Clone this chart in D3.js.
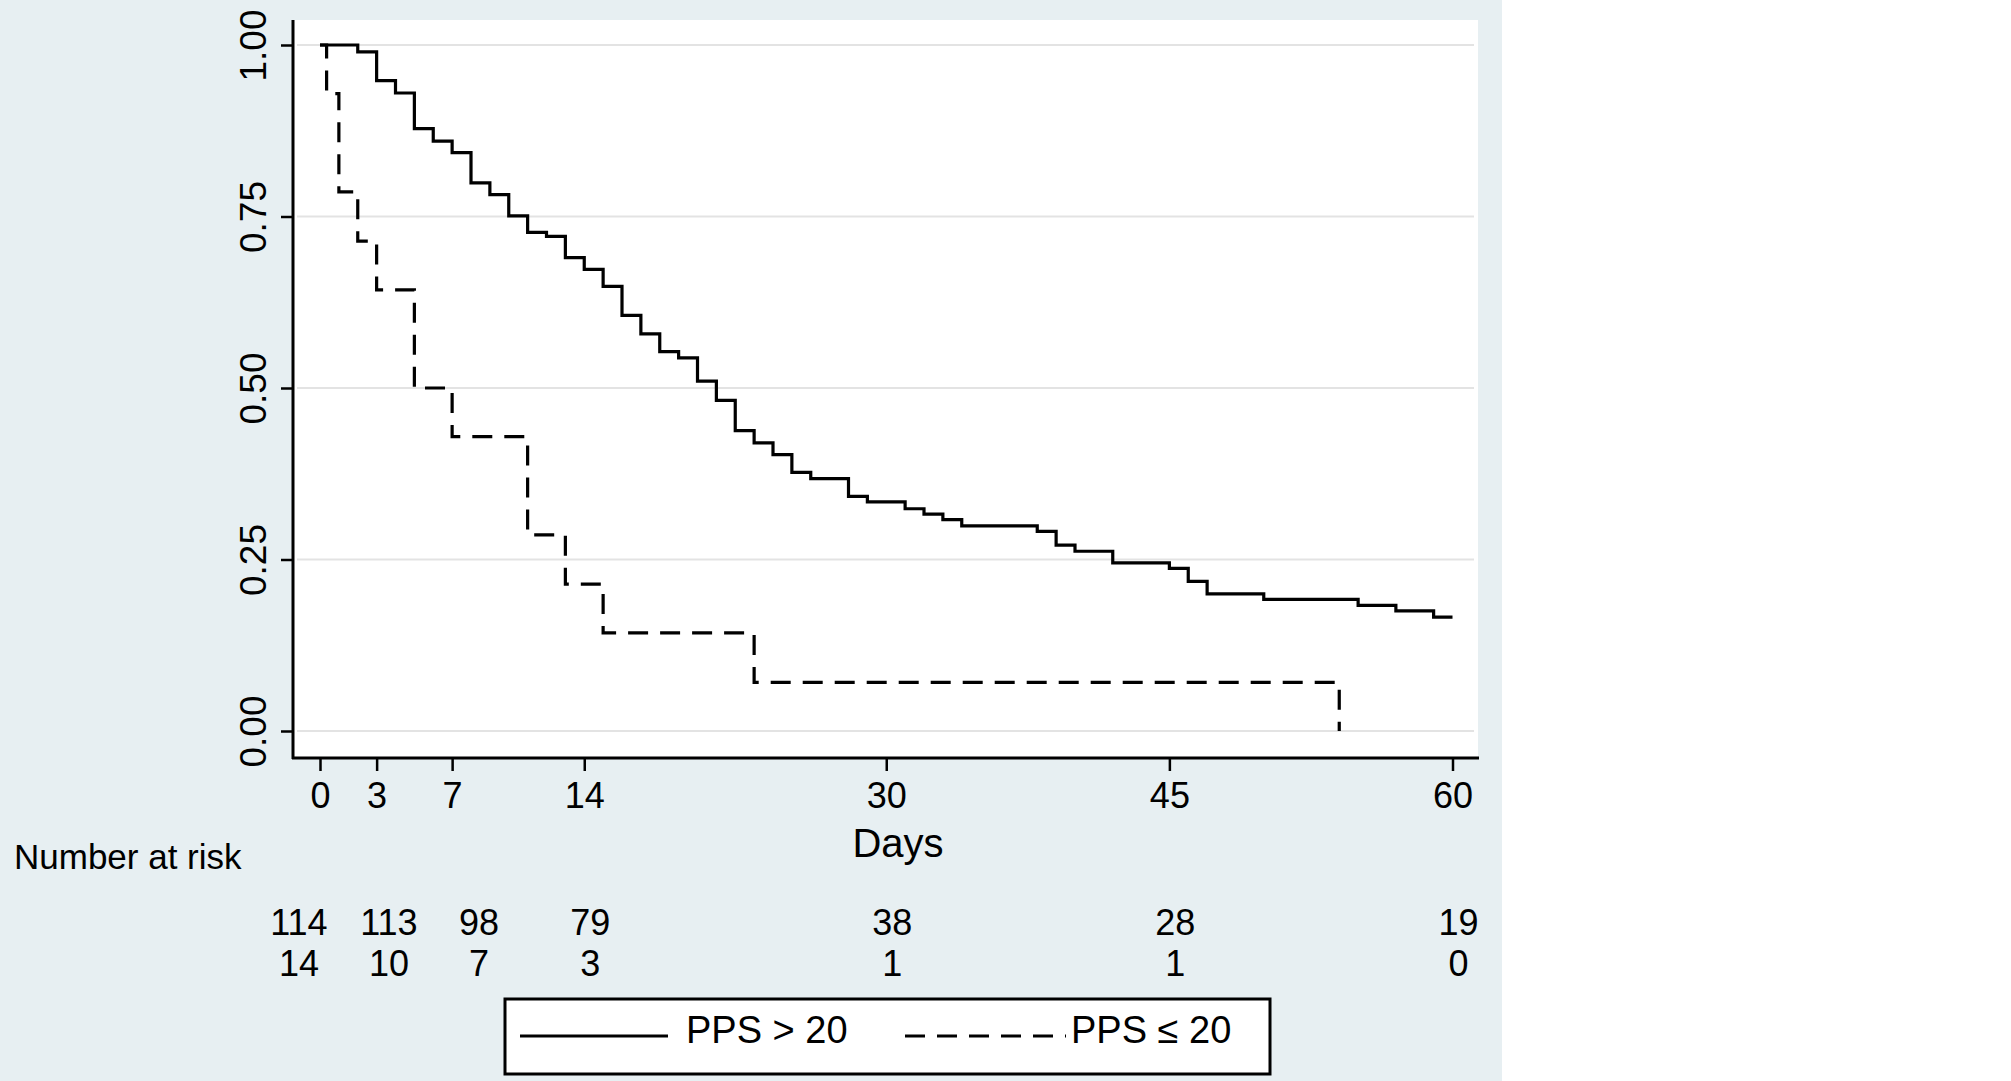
<!DOCTYPE html>
<html>
  <head>
    <title>Kaplan-Meier PPS</title>
    <style>
      body { margin: 0; background: #fff; }
      text { font-family: "Liberation Sans", Arial, sans-serif; fill: #000; }
    </style>
    <script src="https://d3js.org/d3.v7.min.js"></script>
  </head>
  <body>
    <div id="chart"></div>
    <script type="text/javascript">
      // survival curves (day, survival)
      var solidTimes = [0, 2, 3, 4, 5, 6, 7, 8, 9, 10, 11, 12, 13, 14, 15, 16, 17, 18, 19, 20,
                        21, 22, 23, 24, 25, 26, 28, 29, 31, 32, 33, 34, 38, 39, 40, 42, 45, 46, 47, 50,
                        55, 57, 59, 60];
      var solidSurv  = [1, 0.990, 0.948, 0.930, 0.878, 0.860, 0.843, 0.799, 0.782, 0.751,
                        0.727, 0.721, 0.690, 0.673, 0.648, 0.606, 0.579, 0.553, 0.544, 0.510,
                        0.482, 0.438, 0.420, 0.403, 0.377, 0.368, 0.342, 0.334, 0.324, 0.316,
                        0.308, 0.299, 0.291, 0.271, 0.262, 0.245, 0.237, 0.218, 0.200, 0.192,
                        0.183, 0.175, 0.166, 0.166];
      var dashTimes  = [0, 0.35, 1, 2, 3, 5, 7, 11, 13, 15, 23, 54];
      var dashSurv   = [1, 0.929, 0.786, 0.714, 0.643, 0.5, 0.429, 0.286, 0.214, 0.143, 0.071, 0];

      var xTicks = [0, 3, 7, 14, 30, 45, 60];
      var yTicks = [0, 0.25, 0.5, 0.75, 1];

      var riskTimes = [0, 3, 7, 14, 30, 45, 60];
      var riskHigh  = [114, 113, 98, 79, 38, 28, 19];
      var riskLow   = [14, 10, 7, 3, 1, 1, 0];

      var seriesNames = ["PPS > 20", "PPS \u2264 20"];

      var width = 2011,
          height = 1081;

      var svg = d3.select("#chart").append("svg")
        .attr("width", width)
        .attr("height", height);

      // stata-like light blue background and white plot region
      svg.append("rect").attr("x", 0).attr("y", 0)
        .attr("width", 1502).attr("height", height)
        .style("fill", "#e7eff2");
      svg.append("rect").attr("x", 293).attr("y", 20)
        .attr("width", 1478 - 293).attr("height", 758 - 20)
        .style("fill", "#fff");

      var x = d3.scaleLinear().domain([0, 60]).range([320, 1452.5]);
      var y = d3.scaleLinear().domain([0, 1]).range([731, 45]);

      // grid
      svg.selectAll(".grid")
        .data(yTicks)
        .enter()
        .append("line")
        .attr("class", "grid")
        .attr("x1", 297).attr("x2", 1474)
        .attr("y1", function(d){return y(d);})
        .attr("y2", function(d){return y(d);})
        .style("stroke", "#e3e3e3")
        .style("stroke-width", 2);

      // axes
      var xAxis = svg.append("g")
        .attr("transform", "translate(0,758)")
        .call(d3.axisBottom(x).tickValues(xTicks).tickSize(13).tickPadding(11).tickSizeOuter(0));
      xAxis.select(".domain").remove();
      xAxis.selectAll("line").style("stroke", "#000").style("stroke-width", 2.5);
      xAxis.selectAll("text").style("font-size", "36px").style("font-family", null);

      var yAxis = svg.append("g")
        .attr("transform", "translate(293,0)")
        .call(d3.axisLeft(y).tickValues(yTicks).tickSize(12).tickFormat(d3.format(".2f")).tickSizeOuter(0));
      yAxis.select(".domain").remove();
      yAxis.selectAll("line").style("stroke", "#000").style("stroke-width", 2.5);
      yAxis.selectAll("text")
        .attr("x", 0).attr("y", -27).attr("dy", null)
        .attr("transform", "rotate(-90)")
        .attr("text-anchor", "middle")
        .style("font-size", "37px").style("font-family", null);

      svg.append("line").attr("x1", 293).attr("x2", 293).attr("y1", 20).attr("y2", 759)
        .style("stroke", "#000").style("stroke-width", 3);
      svg.append("line").attr("x1", 292).attr("x2", 1479).attr("y1", 758).attr("y2", 758)
        .style("stroke", "#000").style("stroke-width", 3);

      // curves
      var line = d3.line()
        .x(function(d){return x(d[0]);})
        .y(function(d){return y(d[1]);})
        .curve(d3.curveStepAfter);

      svg.append("path")
        .datum(d3.zip(solidTimes, solidSurv))
        .attr("d", line)
        .style("fill", "none").style("stroke", "#000").style("stroke-width", 3.2);

      svg.append("path")
        .datum(d3.zip(dashTimes, dashSurv))
        .attr("d", line)
        .style("fill", "none").style("stroke", "#000").style("stroke-width", 3.2)
        .style("stroke-dasharray", "20,12");

      // axis title
      svg.append("text").attr("x", 898).attr("y", 857)
        .attr("text-anchor", "middle").style("font-size", "40px").text("Days");

      // number at risk table, columns pushed apart where they would collide
      svg.append("text").attr("x", 14).attr("y", 869)
        .style("font-size", "35px").text("Number at risk");

      var riskX = riskTimes.map(function(t){return x(t) + 6;});
      for (var k = 0; k < 40; k++) {
        for (var i = 1; i < riskX.length; i++) {
          var gap = riskX[i] - riskX[i-1];
          if (gap < 90) {
            riskX[i-1] -= (90 - gap) / 2;
            riskX[i]   += (90 - gap) / 2;
          }
        }
      }

      [riskHigh, riskLow].forEach(function(row, r){
        svg.selectAll(".risk" + r)
          .data(row)
          .enter()
          .append("text")
          .attr("class", "risk" + r)
          .attr("x", function(d,i){return riskX[i];})
          .attr("y", r == 0 ? 935 : 976)
          .attr("text-anchor", "middle")
          .style("font-size", "36px")
          .text(function(d){return d;});
      });

      // legend
      var lg = svg.append("g");
      lg.append("rect").attr("x", 505).attr("y", 999)
        .attr("width", 765).attr("height", 75)
        .style("fill", "#fff").style("stroke", "#000").style("stroke-width", 3);
      var items = [{x1: 520, x2: 668, tx: 686, dash: null},
                   {x1: 905, x2: 1066, tx: 1071, dash: "20,12"}];
      items.forEach(function(it, i){
        lg.append("line").attr("x1", it.x1).attr("x2", it.x2)
          .attr("y1", 1036).attr("y2", 1036)
          .style("stroke", "#000").style("stroke-width", 3)
          .style("stroke-dasharray", it.dash);
        lg.append("text").attr("x", it.tx).attr("y", 1043)
          .style("font-size", "38px").text(seriesNames[i]);
      });
    </script>
  </body>
</html>
